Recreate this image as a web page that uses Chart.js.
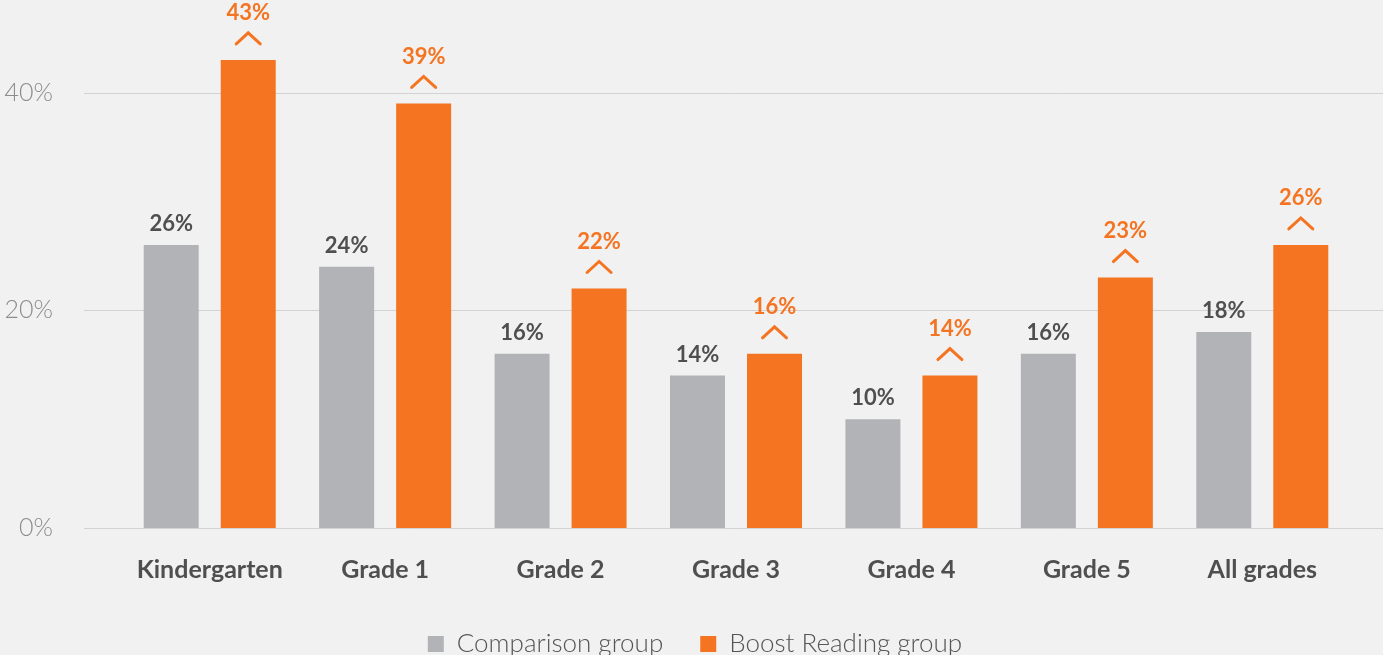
<!DOCTYPE html>
<html>
<head>
  <title>Boost Reading</title>
  <script src="https://cdn.jsdelivr.net/npm/chart.js"></script>
  <style>
    body {
      margin: 0;
      background-color: #f1f1f1;
    }
    .wrap {
      width: 1383px;
      height: 655px;
      position: relative;
    }
  </style>
</head>
<body>
  <div class="wrap"><canvas id="chart"></canvas></div>

  <script>
    const grades = ["Kindergarten", "Grade 1", "Grade 2", "Grade 3", "Grade 4", "Grade 5", "All grades"];
    const comparison = [26, 24, 16, 14, 10, 16, 18];
    const boost = [43, 39, 22, 16, 14, 23, 26];
    const yTicks = [0, 20, 40];

    const GRAY = "#b2b3b6";
    const ORANGE = "#f47421";
    const FONT = "Lato, 'Open Sans', sans-serif";

    // horizontal rules run wider than the bar area
    const gridLines = {
      id: "gridLines",
      beforeDatasetsDraw(chart) {
        const ctx = chart.ctx, y = chart.scales.y;
        ctx.save();
        ctx.strokeStyle = "#d2d2d2";
        ctx.lineWidth = 1;
        yTicks.forEach(v => {
          const py = Math.round(y.getPixelForValue(v)) + 0.5;
          ctx.beginPath();
          ctx.moveTo(84, py);
          ctx.lineTo(chart.width, py);
          ctx.stroke();
        });
        ctx.restore();
      }
    };

    // value labels, with the little chevron over the orange bars
    const barLabels = {
      id: "barLabels",
      afterDatasetsDraw(chart) {
        const ctx = chart.ctx;
        ctx.save();
        ctx.textAlign = "center";
        ctx.textBaseline = "middle";
        ctx.font = "bold 22px " + FONT;
        chart.data.datasets.forEach((ds, i) => {
          chart.getDatasetMeta(i).data.forEach((bar, j) => {
            const txt = ds.data[j] + "%";
            if (i === 0) {
              ctx.fillStyle = "#4f4f4f";
              ctx.fillText(txt, bar.x, bar.y - 21);
            } else {
              ctx.fillStyle = ORANGE;
              ctx.fillText(txt, bar.x, bar.y - 47);
              ctx.strokeStyle = ORANGE;
              ctx.lineWidth = 3;
              ctx.lineCap = "round";
              ctx.beginPath();
              ctx.moveTo(bar.x - 12, bar.y - 16);
              ctx.lineTo(bar.x, bar.y - 27);
              ctx.lineTo(bar.x + 12, bar.y - 16);
              ctx.stroke();
            }
          });
        });
        ctx.restore();
      }
    };

    // legend sits a little right of centre in the original
    const nudgeLegend = {
      id: "nudgeLegend",
      afterLayout(chart) {
        chart.legend.left += 20;
        chart.legend.right += 20;
      }
    };

    new Chart(document.getElementById("chart"), {
      type: "bar",
      data: {
        labels: grades,
        datasets: [
          {
            label: "Comparison group",
            data: comparison,
            backgroundColor: GRAY,
            borderWidth: 0,
            barPercentage: 0.714,
            categoryPercentage: 0.878
          },
          {
            label: "Boost Reading group",
            data: boost,
            backgroundColor: ORANGE,
            borderWidth: 0,
            barPercentage: 0.714,
            categoryPercentage: 0.878
          }
        ]
      },
      options: {
        responsive: true,
        maintainAspectRatio: false,
        animation: false,
        layout: { padding: { left: 0, right: 33, top: 0, bottom: -12 } },
        plugins: {
          tooltip: { enabled: false },
          legend: {
            position: "bottom",
            labels: {
              boxWidth: 16,
              boxHeight: 16,
              padding: 37,
              color: "#555555",
              font: { family: FONT, size: 26, weight: 300 }
            }
          }
        },
        scales: {
          x: {
            grid: { display: false },
            border: { display: false },
            afterFit(scale) { scale.height = 66; },
            ticks: {
              padding: 19,
              maxRotation: 0,
              color: "#4f4f4f",
              font: { family: FONT, size: 25, weight: "bold" }
            }
          },
          y: {
            min: 0,
            max: 48.5,
            grid: { display: false, drawTicks: false },
            border: { display: false },
            afterBuildTicks(scale) { scale.ticks = yTicks.map(v => ({ value: v })); },
            afterFit(scale) {
              scale.width = 122;
              scale.paddingTop = 0;
              scale.paddingBottom = 0;
            },
            ticks: {
              padding: 69,
              color: "#8c8c8c",
              font: { family: FONT, size: 25, weight: 300 },
              callback: v => v + "%"
            }
          }
        }
      },
      plugins: [gridLines, barLabels, nudgeLegend]
    });
  </script>
</body>
</html>
